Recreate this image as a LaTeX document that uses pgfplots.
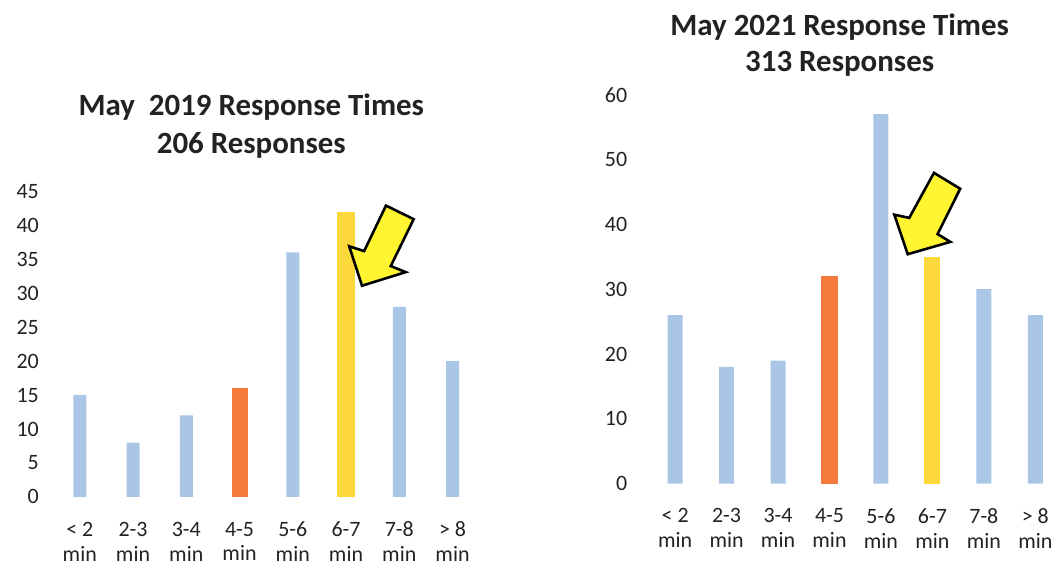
\documentclass[border=0pt]{standalone}
\usepackage{pgfplots}
\pgfplotsset{compat=1.18}
\usepackage{fontspec}
\setmainfont{Carlito}
\definecolor{barblue}{HTML}{A9C6E6}
\definecolor{barorange}{HTML}{F47B3C}
\definecolor{baryellow}{HTML}{FCD83A}
\definecolor{arrowyellow}{HTML}{FFF530}
\definecolor{txt}{HTML}{222222}
\pgfplotsset{
  rt/.style={
    anchor=origin,
    scale only axis,
    enlargelimits=false,
    axis line style={draw=none},
    ybar, bar shift=0pt,
    xmin=-0.6, ymin=0,
    xtick={0,...,7},
    xticklabels={{< 2\\min},{2-3\\min},{3-4\\min},{4-5\\min},{5-6\\min},{6-7\\min},{7-8\\min},{> 8\\min}},
    xticklabel style={align=center, font=\fontsize{11}{12.5}\selectfont, text=txt, yshift=-9pt},
    yticklabel style={font=\fontsize{11}{13}\selectfont, text=txt},
    /pgf/number format/assume math mode=true,
    major tick length=0pt,
    tick style={draw=none},
    clip=false,
    hide obscured x ticks=false,
  },
}
\begin{document}
\begin{tikzpicture}
\path (0,0) rectangle (529.5pt,283.5pt);
% ---------- May 2019 ----------
\begin{axis}[rt, at={(40pt,34.35pt)}, x=26.7pt, y=3.405pt, xmax=7.6, ymax=45, ytick={0,5,...,45},
  yticklabel style={xshift=-1pt}]
\addplot[fill=barblue, draw=none, bar width=6.5pt] coordinates {(0,15) (1,8) (2,12) (4,36) (6,28) (7,20)};
\addplot[fill=barorange, draw=none, bar width=8pt] coordinates {(3,16)};
\addplot[fill=baryellow, draw=none, bar width=9pt] coordinates {(5,42)};
\draw[fill=arrowyellow, draw=black, line width=1.3pt, line join=miter]
  (axis cs:5.75,42.9) -- (axis cs:6.27,40.9) -- (axis cs:5.84,34.0) -- (axis cs:6.12,33.1)
  -- (axis cs:5.30,31.1) -- (axis cs:5.06,36.9) -- (axis cs:5.34,36.2) -- cycle;
\end{axis}
\node[align=center, font=\fontsize{15.5}{19}\selectfont\bfseries, text=txt] at (126pt,220.5pt)
  {May\ \ 2019 Response Times\\206 Responses};
% ---------- May 2021 ----------
\begin{axis}[rt, at={(338.5pt,41pt)}, x=25.8pt, y=3.25pt, xmax=7.35, ymax=60, ytick={0,10,...,60},
  yticklabel style={xshift=-5pt}]
\addplot[fill=barblue, draw=none, bar width=7.5pt] coordinates {(0,26) (1,18) (2,19) (4,57) (6,30) (7,26)};
\addplot[fill=barorange, draw=none, bar width=8.3pt] coordinates {(3,32)};
\addplot[fill=baryellow, draw=none, bar width=8pt] coordinates {(5,35)};
\draw[fill=arrowyellow, draw=black, line width=1.3pt, line join=miter]
  (axis cs:5.03,47.95) -- (axis cs:5.54,45.5) -- (axis cs:5.10,38.5) -- (axis cs:5.35,37.3)
  -- (axis cs:4.52,35.4) -- (axis cs:4.26,41.5) -- (axis cs:4.55,41.0) -- cycle;
\end{axis}
\node[align=center, font=\fontsize{15.5}{18}\selectfont\bfseries, text=txt] at (421pt,261pt)
  {May 2021 Response Times\\313 Responses};
\end{tikzpicture}
\end{document}
